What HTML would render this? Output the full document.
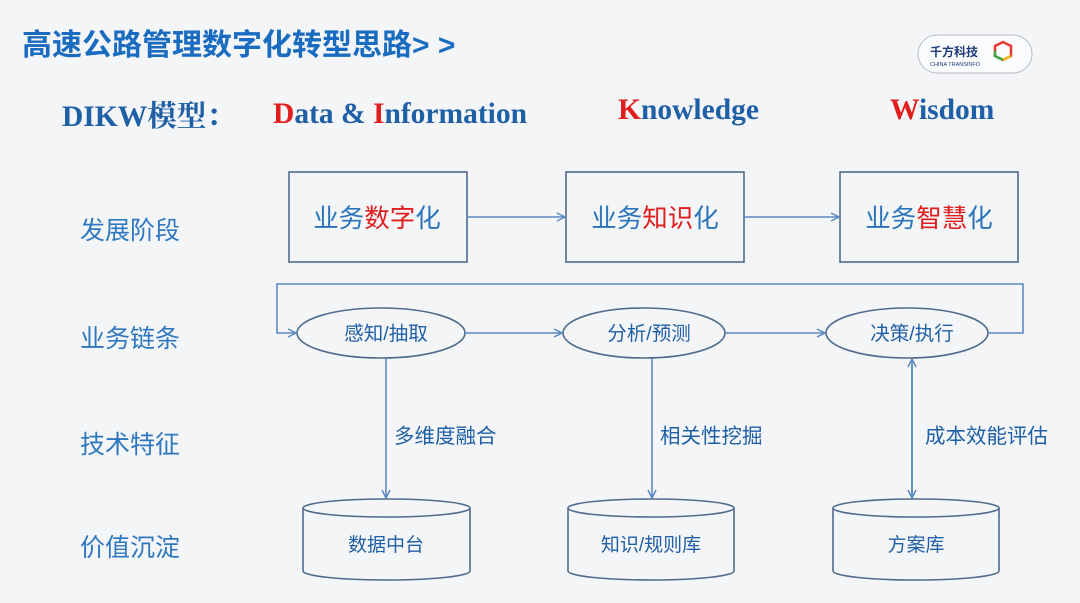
<!DOCTYPE html>
<html><head><meta charset="utf-8"><style>
html,body{margin:0;padding:0;background:#f4f5f7;}
svg{display:block}
</style></head><body>
<svg width="1080" height="603" viewBox="0 0 1080 603" xmlns="http://www.w3.org/2000/svg">
<defs>
<marker id="a" viewBox="0 0 10 10" refX="9" refY="5" markerWidth="10" markerHeight="10" orient="auto" markerUnits="userSpaceOnUse"><path d="M1,1 L9,5 L1,9" fill="none" stroke="#5b8ac0" stroke-width="1.5"/></marker>
</defs>
<rect width="1080" height="603" fill="#f4f5f7"/>
<text x="22" y="55" font-family="'Liberation Sans','Noto Sans CJK SC',sans-serif" font-size="30" font-weight="bold" fill="#1a6cc0">高速公路管理数字化转型思路&gt; &gt;</text>
<rect x="918" y="35" width="114" height="38" rx="19" fill="#fafbfc" stroke="#b5bcc6"/>
<text x="930" y="56" font-family="'Noto Sans CJK SC',sans-serif" font-size="12" font-weight="bold" fill="#1d3c78">千方科技</text>
<text x="930" y="66" font-family="'Liberation Sans',sans-serif" font-size="5.5" fill="#1d3c78">CHINA TRANSINFO</text>
<path d="M995,46 l8,-4 l8,4 v10 l-8,4 l-8,-4z" fill="none" stroke="#e8372c" stroke-width="2.5"/>
<path d="M995,51 v5 l8,4" fill="none" stroke="#3aa843" stroke-width="2.5"/>
<path d="M1003,60 l8,-4" fill="none" stroke="#f2b51c" stroke-width="2.5"/>
<g font-family="'Liberation Serif','Noto Serif CJK SC',serif" font-weight="bold" font-size="29.5">
<text x="62" y="126" fill="#1f5fa6">DIKW模型：</text>
<text x="273" y="123" fill="#1f5fa6"><tspan fill="#e01e1e">D</tspan>ata &amp; <tspan fill="#e01e1e">I</tspan>nformation</text>
<text x="618" y="119" fill="#1f5fa6"><tspan fill="#e01e1e">K</tspan>nowledge</text>
<text x="890" y="119" fill="#1f5fa6"><tspan fill="#e01e1e">W</tspan>isdom</text>
</g>
<g font-family="'Liberation Sans','Noto Sans CJK SC',sans-serif" font-size="25" fill="#2f78c0">
<text x="80" y="239">发展阶段</text>
<text x="80" y="347">业务链条</text>
<text x="80" y="453">技术特征</text>
<text x="80" y="556">价值沉淀</text>
</g>
<g fill="none" stroke="#4f6b8c" stroke-width="1.6">
<rect x="289" y="172" width="178" height="90"/>
<rect x="566" y="172" width="178" height="90"/>
<rect x="840" y="172" width="178" height="90"/>
<ellipse cx="381" cy="333" rx="84" ry="25"/>
<ellipse cx="644" cy="333" rx="81" ry="25"/>
<ellipse cx="907" cy="333" rx="81" ry="25"/>
</g>
<g font-family="'Liberation Sans','Noto Sans CJK SC',sans-serif" font-size="25.5" fill="#2a74bb" text-anchor="middle">
<text x="377" y="227">业务<tspan fill="#e01e1e">数字</tspan>化</text>
<text x="655" y="227">业务<tspan fill="#e01e1e">知识</tspan>化</text>
<text x="929" y="227">业务<tspan fill="#e01e1e">智慧</tspan>化</text>
</g>
<g fill="none" stroke="#5b8ac0" stroke-width="1.6">
<line x1="467" y1="217" x2="565" y2="217" marker-end="url(#a)"/>
<line x1="744" y1="217" x2="839" y2="217" marker-end="url(#a)"/>
<polyline points="988,333 1023,333 1023,284 277,284 277,333 296,333" marker-end="url(#a)"/>
<line x1="465" y1="333" x2="562" y2="333" marker-end="url(#a)"/>
<line x1="725" y1="333" x2="825" y2="333" marker-end="url(#a)"/>
<line x1="386" y1="358" x2="386" y2="498" marker-end="url(#a)"/>
<line x1="652" y1="358" x2="652" y2="498" marker-end="url(#a)"/>
<line x1="912" y1="497" x2="912" y2="359" marker-end="url(#a)"/>
<line x1="912" y1="365" x2="912" y2="498" marker-end="url(#a)"/>
</g>
<g font-family="'Liberation Sans','Noto Sans CJK SC',sans-serif" font-size="19.5" fill="#1f5fa6" text-anchor="middle">
<text x="386" y="340">感知/抽取</text>
<text x="649" y="340">分析/预测</text>
<text x="912" y="340">决策/执行</text>
</g>
<g font-family="'Liberation Sans','Noto Sans CJK SC',sans-serif" font-size="20.5" fill="#1f5fa6">
<text x="394" y="443">多维度融合</text>
<text x="660" y="443">相关性挖掘</text>
<text x="925" y="443">成本效能评估</text>
</g>
<g fill="#f4f5f7" stroke="#4f6b8c" stroke-width="1.6">
<path d="M303,508 v63 a83.5,9 0 0 0 167,0 v-63"/>
<ellipse cx="386.5" cy="508" rx="83.5" ry="9"/>
<path d="M568,508 v63 a83,9 0 0 0 166,0 v-63"/>
<ellipse cx="651" cy="508" rx="83" ry="9"/>
<path d="M833,508 v63 a83,9 0 0 0 166,0 v-63"/>
<ellipse cx="916" cy="508" rx="83" ry="9"/>
</g>
<g font-family="'Liberation Sans','Noto Sans CJK SC',sans-serif" font-size="19" fill="#1f5fa6" text-anchor="middle">
<text x="386" y="551">数据中台</text>
<text x="651" y="551">知识/规则库</text>
<text x="916" y="551">方案库</text>
</g>
</svg>
</body></html>
